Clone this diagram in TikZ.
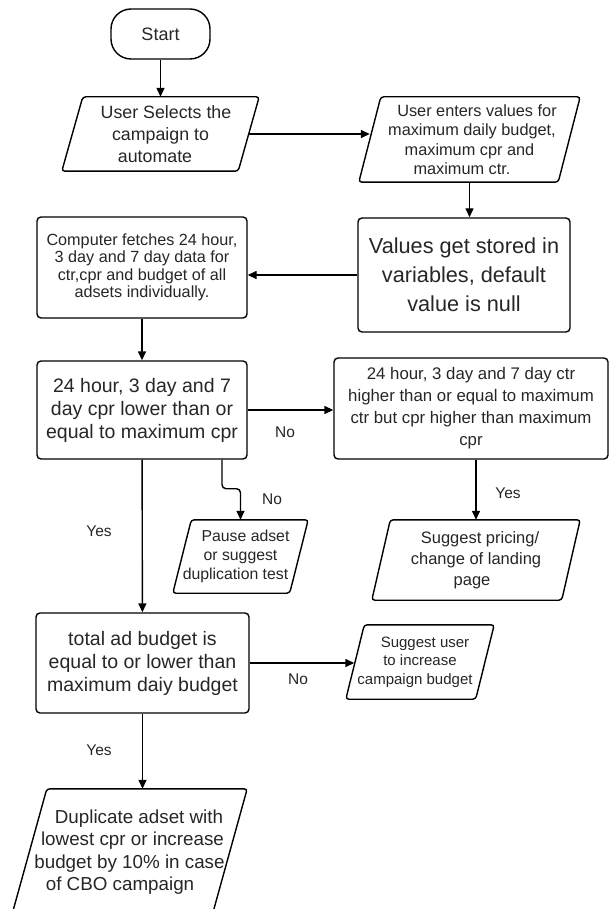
\documentclass[tikz,border=0pt]{standalone}
\usepackage{fontspec}
\setmainfont{Liberation Sans}
\usetikzlibrary{arrows.meta}
\newcommand{\fs}[2]{\fontsize{#1}{#2}\selectfont}
\tikzset{
  box/.style={draw,line width=1.4pt,rounded corners=4pt,align=center,inner sep=2pt},
  io/.style={align=center,inner sep=0pt},
  ioline/.style={line width=1.4pt,rounded corners=3pt},
  arr/.style={-{Triangle[length=9pt,width=8pt]},line width=1.4pt},
  lbl/.style={font=\fs{15.5}{18}}
}
\begin{document}
\begin{tikzpicture}[x=1pt,y=-1pt,text=black!85]
\useasboundingbox (0,0) rectangle (610,909);

\node[draw,line width=1.4pt,rounded corners=20pt,minimum width=99pt,minimum height=50pt,font=\fs{18}{21}] (start) at (160.5,34) {Start};
\node[io,minimum width=197pt,minimum height=74pt,font=\fs{17.8}{22}] (sel) at (160.5,134)
  {\hspace*{11pt}User Selects the\\campaign to\\automate\hspace*{11pt}};
\node[io,minimum width=221pt,minimum height=85pt,font=\fs{16.3}{19.5}] (enter) at (469.5,139.5)
  {\hspace*{15pt}User enters values for\\\hspace*{5pt}maximum daily budget,\\maximum cpr and\hspace*{5pt}\\maximum ctr.\hspace*{15pt}};
\node[box,minimum width=212pt,minimum height=114pt,font=\fs{21.7}{29}] (vals) at (464,275)
  {Values get stored in\\variables, default\\value is null};
\node[box,minimum width=210pt,minimum height=101pt,font=\fs{16.2}{17.5}] (fetch) at (142,267.5)
  {Computer fetches 24 hour,\\3 day and 7 day data for\\ctr,cpr and budget of all\\adsets individually.};

% checks
\node[box,minimum width=210pt,minimum height=98pt,font=\fs{19.5}{23}] (cpr) at (142,410)
  {24 hour, 3 day and 7\\day cpr lower than or\\equal to maximum cpr};
\node[box,minimum width=274pt,minimum height=101pt,font=\fs{16.8}{22}] (ctr) at (471,408.5)
  {24 hour, 3 day and 7 day ctr\\higher than or equal to maximum\\ctr but cpr higher than maximum\\cpr};
\node[io,minimum width=135pt,minimum height=73pt,font=\fs{15.8}{19}] (pause) at (240.5,556.5)
  {\hspace*{10pt}Pause adset\\or suggest\\duplication test\hspace*{10pt}};
\node[io,minimum width=208pt,minimum height=80pt,font=\fs{16.5}{21}] (pricing) at (476,560)
  {\hspace*{8pt}Suggest pricing/\\change of landing\\page\hspace*{8pt}};
\node[box,minimum width=213pt,minimum height=100pt,font=\fs{19.5}{23}] (total) at (142.5,663)
  {total ad budget is\\equal to or lower than\\maximum daiy budget};
\node[io,minimum width=148pt,minimum height=74pt,font=\fs{15}{18.5}] (raise) at (420,662)
  {\hspace*{10pt}Suggest user\\to increase\\campaign budget\hspace*{10pt}};
\node[io,minimum width=235pt,minimum height=126pt,font=\fs{18.8}{22.5}] (dup) at (129.5,852)
  {\hspace*{19pt}Duplicate adset with\\\hspace*{6pt}lowest cpr or increase\\budget by 10\% in case\hspace*{6pt}\\of CBO campaign\hspace*{19pt}};

% slanted outlines of the input/output steps
\foreach \n/\o in {sel/21,enter/22,pause/18.5,pricing/18.5,raise/18.5,dup/35}
  \draw[ioline] ([xshift=\o pt]\n.north west) -- (\n.north east) -- ([xshift=-\o pt]\n.south east) -- (\n.south west) -- cycle;

% arrows
\draw[arr] (start) -- (start |- sel.north);
\draw[arr] ([xshift=-10.5pt]sel.east) -- ([xshift=11pt]sel.east -| enter.west);
\draw[arr] (enter) -- (enter |- vals.north);
\draw[arr] (vals.west) -- (vals.west -| fetch.east);
\draw[arr] (fetch) -- (cpr);
\draw[arr] (cpr.east) -- (cpr.east -| ctr.west);
\draw[arr,rounded corners=4pt] ([xshift=80pt]cpr.south) -- ++(0,29) -| (pause);
\draw[arr] (cpr) -- (total);
\draw[arr] (pricing |- ctr.south) -- (pricing);
\draw[arr] (total.east) -- ([xshift=8.5pt]total.east -| raise.west);
\draw[arr] (total.south) -- (total.south |- dup.north);

% labels
\node[lbl] (no1) at (285,432) {No};
\node[lbl] (no2) at (272,499) {No};
\node[lbl] (yes1) at (99,531) {Yes};
\node[lbl] (yes2) at (508,493) {Yes};
\node[lbl] (no3) at (298,679) {No};
\node[lbl] (yes3) at (99,750) {Yes};
\end{tikzpicture}
\end{document}
